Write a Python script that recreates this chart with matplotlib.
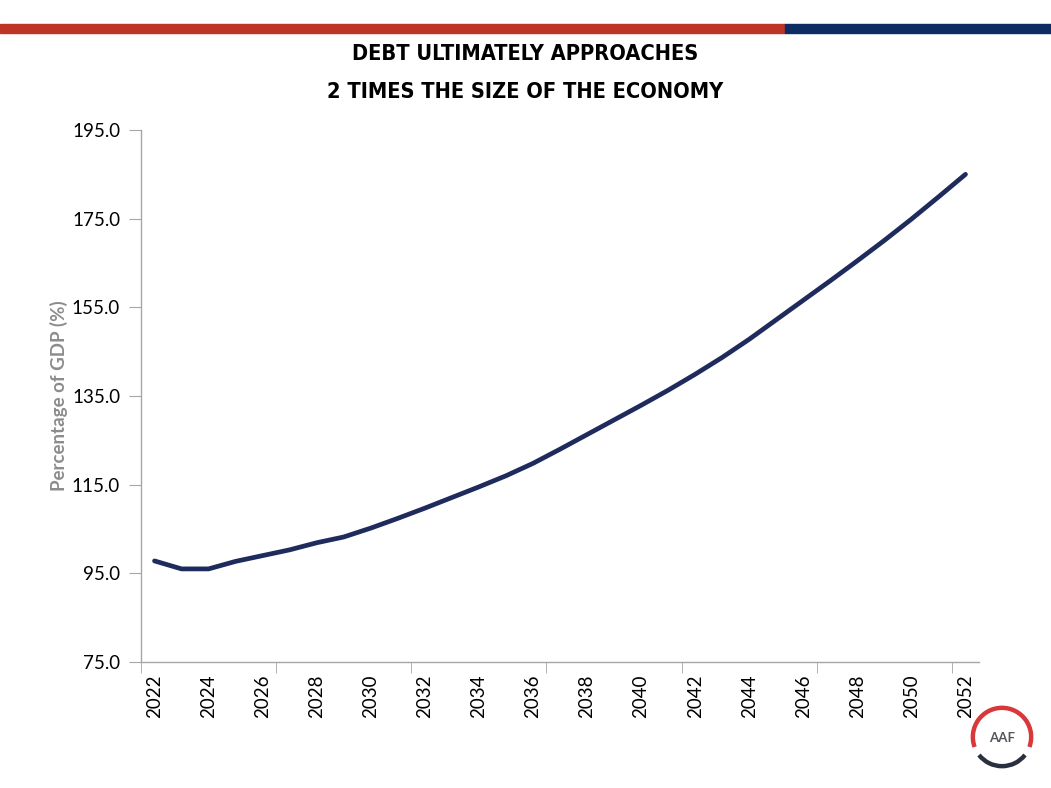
#!/usr/bin/env python3
# -*- coding: utf-8 -*-

import matplotlib
matplotlib.use('Agg')
import matplotlib.pyplot as plt
from matplotlib.patches import Arc, Rectangle

YEARS = list(range(2022, 2053))
DEBT_PCT = [97.8, 96.0, 96.0, 97.7, 99.0, 100.3, 101.9, 103.2, 105.2, 107.4,
            109.7, 112.1, 114.5, 117.0, 119.8, 123.0, 126.3, 129.6, 132.9, 136.3,
            139.9, 143.7, 147.8, 152.2, 156.6, 161.0, 165.5, 170.1, 174.9, 179.9,
            185.0]
Y_TICKS = [75.0, 95.0, 115.0, 135.0, 155.0, 175.0, 195.0]

TITLE = "DEBT ULTIMATELY APPROACHES\n2 TIMES THE SIZE OF THE ECONOMY"
Y_LABEL = "Percentage of GDP (%)"

NAVY = '#1f2b5c'
RED = '#be3526'
BLUE = '#0d2c62'
GREY = '#a6a6a6'

plt.rcParams['font.family'] = ['Lato', 'DejaVu Sans']

fig = plt.figure(figsize=(10.51, 7.88), dpi=100)

# top colour bar
fig.patches.append(Rectangle((0, 1 - 33 / 788), 785 / 1051, 9 / 788,
                             transform=fig.transFigure, color=RED, zorder=0))
fig.patches.append(Rectangle((785 / 1051, 1 - 33 / 788), 1 - 785 / 1051, 9 / 788,
                             transform=fig.transFigure, color=BLUE, zorder=0))

fig.text(0.5, 1 - 73 / 788, TITLE, ha='center', va='center', fontsize=15.7,
         fontweight='bold', fontstretch='condensed', linespacing=2.1,
         family=['DejaVu Sans'])

ax = fig.add_axes([141 / 1051, 1 - 662 / 788, 838 / 1051, 532 / 788])
x = list(range(len(YEARS)))
ax.plot(x, DEBT_PCT, color=NAVY, lw=3.4, solid_capstyle='round',
        solid_joinstyle='round')

ax.set_xlim(-0.5, len(YEARS) - 0.5)
ax.set_ylim(75, 195)
ax.set_yticks(Y_TICKS)
ax.set_yticklabels([f"{v:.1f}" for v in Y_TICKS], fontsize=13.5)

# labels every 2 years, tick marks every 5 categories at boundaries
ax.set_xticks(x[::2])
ax.set_xticklabels([str(y) for y in YEARS[::2]], rotation=90, fontsize=13.5)
ax.tick_params(axis='x', length=0, pad=9)
ax.set_xticks([i - 0.5 for i in range(0, len(YEARS) + 1, 5)], minor=True)
ax.tick_params(axis='x', which='minor', length=8, direction='out', color=GREY)
ax.tick_params(axis='y', length=9, direction='out', color=GREY, pad=6)

for side in ['top', 'right']:
    ax.spines[side].set_visible(False)
for side in ['left', 'bottom']:
    ax.spines[side].set_color(GREY)
    ax.spines[side].set_linewidth(1.0)

ax.set_ylabel(Y_LABEL, fontsize=13.5, fontweight='bold', color='#8c8c8c', labelpad=3)

# AAF logo
lax = fig.add_axes([967 / 1051, 1 - 772 / 788, 70 / 1051, 70 / 788])
lax.set_xlim(-1.2, 1.2)
lax.set_ylim(-1.2, 1.2)
lax.set_aspect('equal')
lax.axis('off')
lax.add_patch(Arc((0, 0), 2, 2, theta1=-20, theta2=200, color='#d8383a', lw=3.2))
lax.add_patch(Arc((0, 0), 2, 2, theta1=218, theta2=322, color='#2b3040', lw=3.2))
lax.text(0, -0.05, 'AAF', ha='center', va='center', fontsize=9.5, fontweight='bold',
         color='#55565a')

fig.savefig('out.png', dpi=100, facecolor='white')
